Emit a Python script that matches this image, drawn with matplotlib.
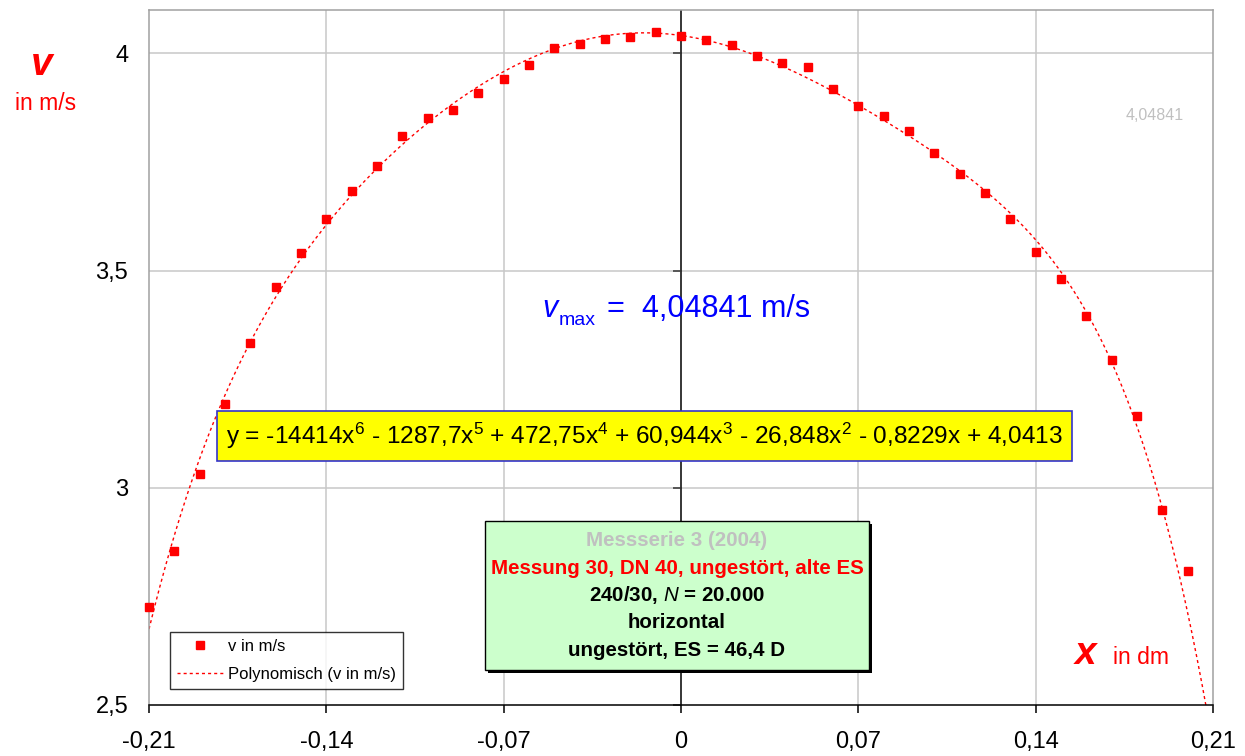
import numpy as np
import matplotlib
matplotlib.use("Agg")
import matplotlib.pyplot as plt
from matplotlib.lines import Line2D
from matplotlib.patches import Rectangle

plt.rcParams['font.family'] = ['Liberation Sans', 'DejaVu Sans']
plt.rcParams['mathtext.fontset'] = 'custom'
plt.rcParams['mathtext.rm'] = 'Liberation Sans'
plt.rcParams['mathtext.it'] = 'Liberation Sans:italic'
plt.rcParams['mathtext.bf'] = 'Liberation Sans:bold'

# ---- measured velocity profile ----
x_pos = [-0.21, -0.20, -0.19, -0.18, -0.17, -0.16, -0.15, -0.14, -0.13, -0.12,
         -0.11, -0.10, -0.09, -0.08, -0.07, -0.06, -0.05, -0.04, -0.03, -0.02,
         -0.01, 0.00, 0.01, 0.02, 0.03, 0.04, 0.05, 0.06, 0.07, 0.08,
         0.09, 0.10, 0.11, 0.12, 0.13, 0.14, 0.15, 0.16, 0.17, 0.18,
         0.19, 0.20]
v_vals = [2.726, 2.855, 3.032, 3.193, 3.333, 3.462, 3.541, 3.620, 3.683, 3.741,
          3.810, 3.851, 3.870, 3.909, 3.941, 3.973, 4.012, 4.021, 4.033, 4.037,
          4.04841, 4.040, 4.030, 4.019, 3.994, 3.977, 3.968, 3.917, 3.880, 3.856,
          3.821, 3.770, 3.722, 3.678, 3.620, 3.544, 3.481, 3.396, 3.294, 3.165,
          2.949, 2.809]

# 6th order polynomial trend (highest power first)
poly_coeffs = [-14414, -1287.7, 472.75, 60.944, -26.848, -0.8229, 4.0413]

x_ticks = [-0.21, -0.14, -0.07, 0.0, 0.07, 0.14, 0.21]
x_tick_labels = ['-0,21', '-0,14', '-0,07', '0', '0,07', '0,14', '0,21']
y_ticks = [2.5, 3.0, 3.5, 4.0]
y_tick_labels = ['2,5', '3', '3,5', '4']

info_lines = ['Messserie 3 (2004)',
              'Messung 30, DN 40, ungestört, alte ES',
              r'240/30, $\mathit{N}$ = 20.000',
              'horizontal',
              'ungestört, ES = 46,4 D']

W, H = 1245, 756
fig = plt.figure(figsize=(W / 100, H / 100), dpi=100)
fig.patch.set_facecolor('white')


def px(x, y):
    return x / W, 1 - y / H


ax = fig.add_axes([149 / W, 1 - 705 / H, (1213 - 149) / W, (705 - 10) / H])
ax.set_xlim(-0.21, 0.21)
ax.set_ylim(2.5, 4.1)

grid_c = '#c8c8c8'
for xv in x_ticks[1:-1]:
    if xv != 0:
        ax.axvline(xv, color=grid_c, lw=1.1, zorder=0.5)
for yv in y_ticks[1:]:
    ax.axhline(yv, color=grid_c, lw=1.1, zorder=0.5)

for side in ('left', 'top', 'right'):
    ax.spines[side].set_color('#a0a0a0')
    ax.spines[side].set_linewidth(1.1)
ax.spines['bottom'].set_color('black')
ax.spines['bottom'].set_linewidth(1.1)

# vertical axis through x = 0 with small ticks
ax.axvline(0, color='black', lw=1.1, zorder=1)
ax.plot([0] * len(y_ticks), y_ticks, linestyle='none', marker=0,
        markersize=5.5, markeredgewidth=1.1, color='#333333', zorder=1)

ax.set_xticks(x_ticks)
ax.set_xticklabels(x_tick_labels, fontsize=17)
ax.set_yticks(y_ticks)
ax.set_yticklabels(y_tick_labels, fontsize=17)
ax.tick_params(axis='x', direction='out', length=6, width=1.1, pad=13, color='black')
ax.tick_params(axis='y', length=0, pad=15)

# trend line
xf = np.linspace(-0.21, 0.21, 600)
ax.plot(xf, np.polyval(poly_coeffs, xf), color='red', lw=1.0,
        linestyle=(0, (2.2, 2.2)), zorder=2)

# data points
ax.plot(x_pos, v_vals, linestyle='none', marker='s', markersize=5.5,
        color='red', markeredgecolor='red', zorder=3, clip_on=False)

# legend
handles = [Line2D([], [], linestyle='none', marker='s', markersize=5.5, color='red'),
           Line2D([], [], color='red', lw=1.0, linestyle=(0, (2.2, 2.2)))]
leg = fig.legend(handles, ['v in m/s', 'Polynomisch (v in m/s)'],
                 loc='upper left', bbox_to_anchor=px(170, 632),
                 fontsize=12, frameon=True, fancybox=False, shadow=False,
                 handlelength=2.75, handletextpad=0.35, borderpad=0.4,
                 labelspacing=0.8, borderaxespad=0, numpoints=1)
leg.get_frame().set_edgecolor('black')
leg.get_frame().set_linewidth(1.0)

# axis captions
fig.text(*px(42, 75), 'v', color='red', fontsize=28, fontweight='bold',
         fontstyle='italic', ha='center', va='baseline')
fig.text(*px(46, 110), 'in m/s', color='red', fontsize=16.5, ha='center', va='baseline')
fig.text(*px(1075, 664), 'x', color='red', fontsize=28, fontweight='bold',
         fontstyle='italic', ha='left', va='baseline')
fig.text(*px(1113, 664), 'in dm', color='red', fontsize=16.5, ha='left', va='baseline')

# maximum velocity
v_max = max(v_vals)
v_max_str = f"{v_max:.5f}".replace('.', ',')
fig.text(*px(1155, 120), v_max_str, color='#c0c0c0', fontsize=11.5,
         ha='center', va='baseline')
fig.text(*px(542, 317), 'v', color='blue', fontsize=22, fontstyle='italic',
         ha='left', va='baseline')
fig.text(*px(559, 325), 'max', color='blue', fontsize=14, ha='left', va='baseline')
fig.text(*px(607, 317), '=  ' + v_max_str + ' m/s', color='blue', fontsize=22,
         ha='left', va='baseline')


# polynomial equation box
def fmt_num(c):
    return f"{abs(c):g}".replace('.', ',')


deg = len(poly_coeffs) - 1
parts = []
for i, c in enumerate(poly_coeffs):
    p = deg - i
    sign = '-' if c < 0 else '+'
    if p >= 2:
        term = fmt_num(c) + 'x$^{\\mathregular{' + str(p) + '}}$'
    elif p == 1:
        term = fmt_num(c) + 'x'
    else:
        term = fmt_num(c)
    if i == 0:
        parts.append(('-' if c < 0 else '') + term)
    else:
        parts.append(sign + ' ' + term)
eq_text = 'y = ' + ' '.join(parts)

eq_box = Rectangle(px(217, 461), (1072 - 217) / W, 50 / H, transform=fig.transFigure,
                   facecolor='yellow', edgecolor='#3333cc', lw=1.2, zorder=5)
fig.add_artist(eq_box)
fig.text(*px(644, 444), eq_text, fontsize=17.6, color='black', ha='center',
         va='baseline', zorder=6)

# info box with shadow
shadow = Rectangle(px(488, 673), (869 - 485) / W, (670 - 521) / H,
                   transform=fig.transFigure, facecolor='black', edgecolor='none', zorder=5)
fig.add_artist(shadow)
info_box = Rectangle(px(485, 670), (869 - 485) / W, (670 - 521) / H,
                     transform=fig.transFigure, facecolor='#ccffcc',
                     edgecolor='black', lw=1.0, zorder=6)
fig.add_artist(info_box)
info_colors = ['#c0c0c0', 'red', 'black', 'black', 'black']
for k, (line, col) in enumerate(zip(info_lines, info_colors)):
    fig.text(*px(677, 546 + 27.5 * k), line, color=col, fontsize=14.8,
             fontweight='bold', ha='center', va='baseline', zorder=7)

fig.savefig('out.png', dpi=100)
